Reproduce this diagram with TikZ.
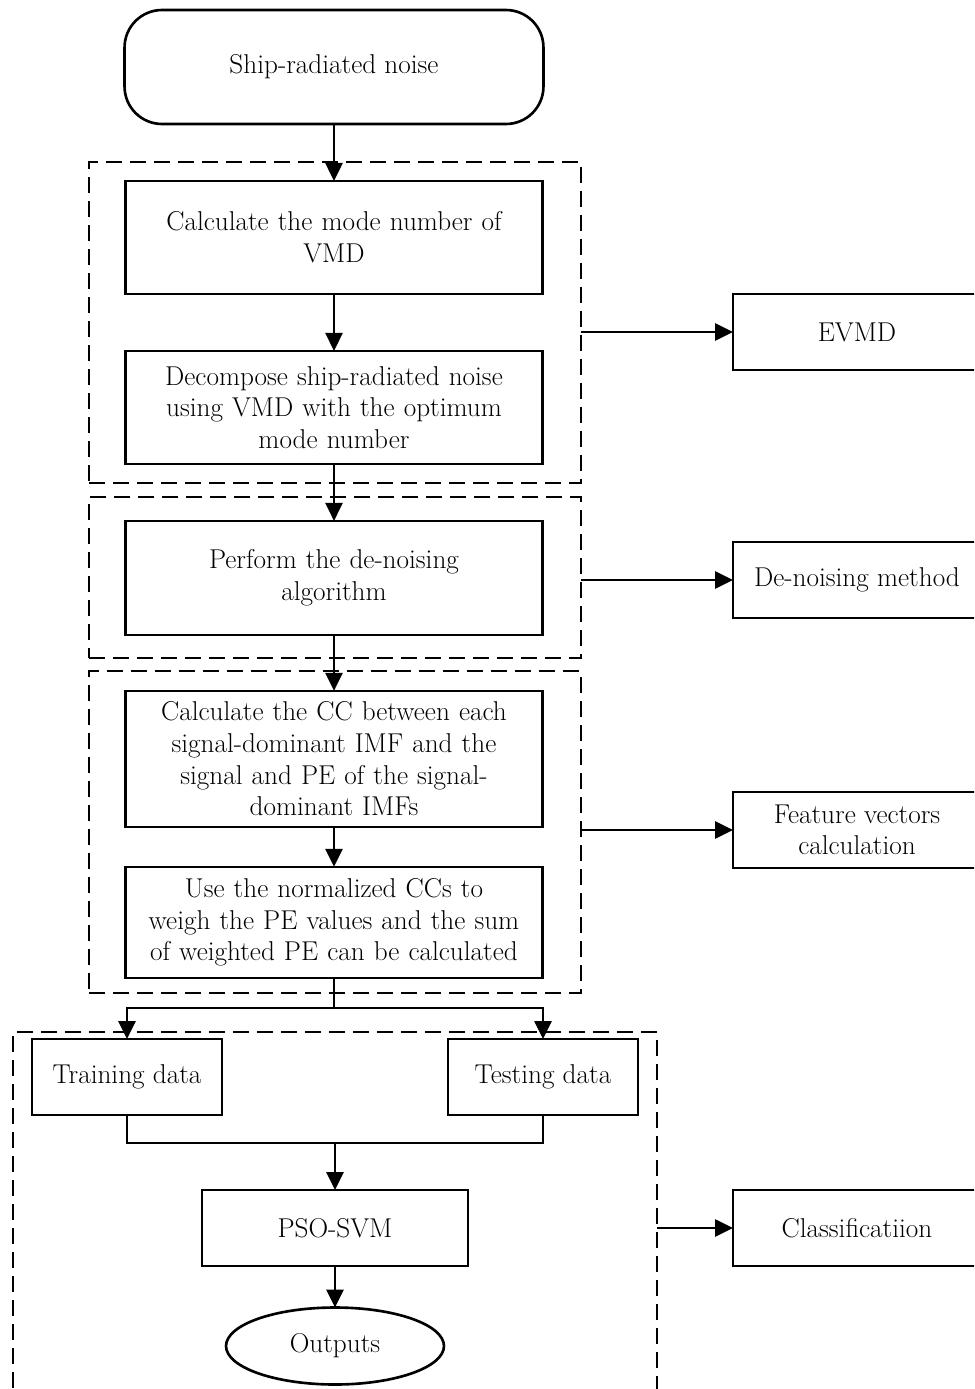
\documentclass[tikz,border=0pt]{standalone}
\usetikzlibrary{positioning,arrows.meta,shapes.geometric}
\tikzset{
  stepbox/.style={draw, line width=1.5pt, minimum width=8.34cm, text width=7.9cm, align=center, inner sep=2pt, outer sep=0pt},
  sidebox/.style={draw, line width=1.5pt, minimum width=4.96cm, minimum height=1.52cm, align=center, inner sep=2pt, outer sep=0pt},
  databox/.style={draw, line width=1.5pt, minimum width=3.8cm, minimum height=1.52cm, inner sep=2pt, outer sep=0pt},
  group/.style={draw, line width=1.3pt, dash pattern=on 0.32cm off 0.16cm, inner sep=0pt, outer sep=0pt},
}
\begin{document}
\begin{tikzpicture}[x=0.02cm, y=-0.02cm, >={Triangle[length=0.36cm, width=0.34cm]}, line width=1.5pt, font=\fontsize{15.5}{18}\selectfont]
  \useasboundingbox (0,0) rectangle (974,1389);
  \clip (0,0) rectangle (974,1389);

  \node[group, minimum width=9.84cm, minimum height=6.42cm] (vmdgrp) at (335,322.5) {};
  \node[group, minimum width=9.84cm, minimum height=3.22cm] (dngrp) at (335,577.5) {};
  \node[group, minimum width=9.84cm, minimum height=6.44cm] (fvgrp) at (335,832) {};
  \node[group, minimum width=12.88cm, minimum height=7.76cm] (clsgrp) at (335,1226) {};

  \node[draw, rounded corners=0.75cm, outer sep=0pt, minimum width=8.38cm, minimum height=2.28cm] (noise) at (334,67) {Ship-radiated noise};
  \node[stepbox, minimum height=2.26cm, below=1.14cm of noise] (modes) {Calculate the mode number of\\VMD};
  \node[stepbox, minimum height=2.26cm, below=1.14cm of modes] (decomp) {Decompose ship-radiated noise\\using VMD with the optimum\\mode number};
  \node[stepbox, minimum height=2.28cm, below=1.14cm of decomp] (denoise) {Perform the de-noising\\algorithm};
  \node[stepbox, minimum height=2.72cm, below=1.12cm of denoise] (corr) {Calculate the CC between each\\signal-dominant IMF and the\\signal and PE of the signal-\\dominant IMFs};
  \node[stepbox, minimum height=2.22cm, below=0.8cm of corr] (wpe) {Use the normalized CCs to\\weigh the PE values and the sum\\of weighted PE can be calculated};

  \node[databox] (train) at (127,1077) {Training data};
  \node[databox] (test) at (543,1077) {Testing data};
  \coordinate (merge) at (335,1143);
  \node[databox, minimum width=5.32cm] (pso) at (335,1228) {PSO-SVM};
  \node[draw, ellipse, minimum width=4.36cm, minimum height=1.54cm, inner sep=0pt, outer sep=0pt] (out) at (335,1346) {Outputs};

  \node[sidebox] (evmd) at (857,332) {EVMD};
  \node[sidebox] (dnm) at (857,580) {De-noising method};
  \node[sidebox] (fvc) at (857,830) {Feature vectors\\calculation};
  \node[sidebox] (cls) at (857,1228) {Classificatiion};

  \draw[->] (noise) -- (modes);
  \draw[->] (modes) -- (decomp);
  \draw[->] (decomp) -- (denoise);
  \draw[->] (denoise) -- (corr);
  \draw[->] (corr) -- (wpe);
  \draw[->] (wpe.south) -- ++(0,30) -| (train.north);
  \draw[->] (wpe.south) -- ++(0,30) -| (test.north);
  \draw (train.south) |- (merge) -| (test.south);
  \draw[->] (merge) -- (pso.north);
  \draw[->] (pso) -- (out);

  \draw[->] (vmdgrp.east |- evmd.west) -- (evmd.west);
  \draw[->] (dngrp.east |- dnm.west) -- (dnm.west);
  \draw[->] (fvgrp.east |- fvc.west) -- (fvc.west);
  \draw[->] (clsgrp.east |- cls.west) -- (cls.west);
\end{tikzpicture}
\end{document}
